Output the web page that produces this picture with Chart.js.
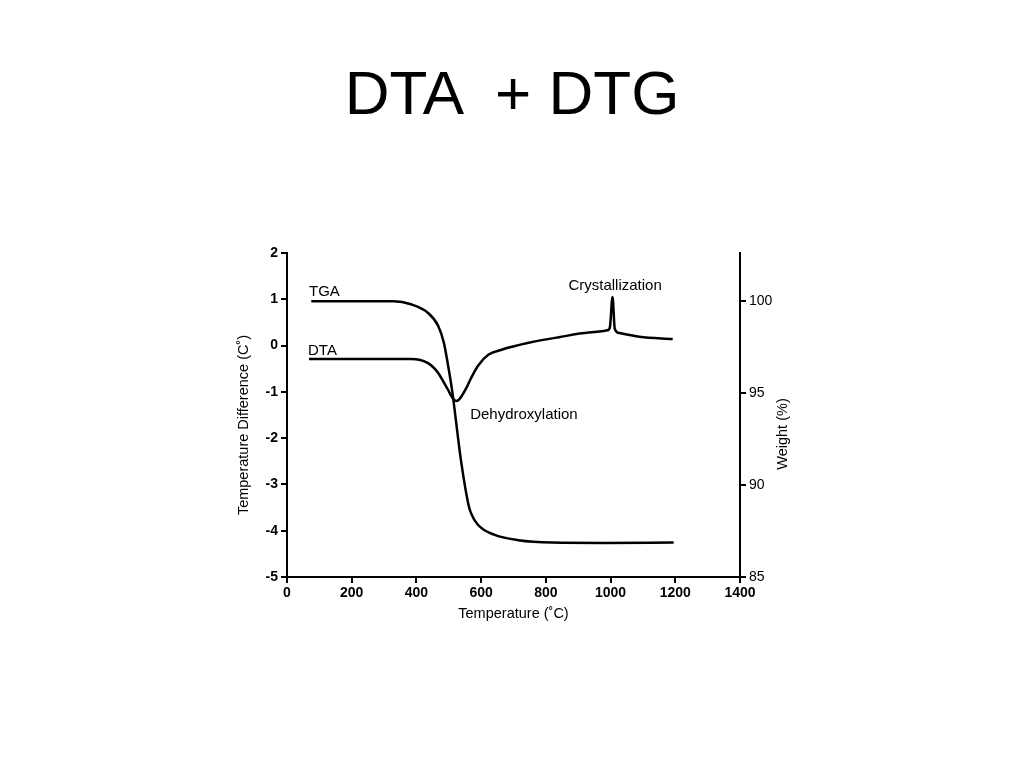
<!DOCTYPE html>
<html>
<head>
<meta charset="utf-8">
<script src="https://cdn.jsdelivr.net/npm/chart.js@4.4.1/dist/chart.umd.min.js"></script>
<style>
  html, body { margin: 0; padding: 0; background: #fff; }
  #wrap { position: absolute; left: 0; top: 0; width: 1024px; height: 768px; }
  #title {
    position: absolute; left: 0; top: 62px; width: 1024px; text-align: center;
    font-family: 'Liberation Sans', Arial, sans-serif; font-size: 62px; line-height: 62px;
    white-space: pre; color: #000;
  }
</style>
</head>
<body>
<div id="wrap"><canvas id="c"></canvas></div>
<div id="title">DTA  + DTG</div>
<script>
// ---- data ----
const tgaTemp   = [75, 330, 383, 436, 467, 485, 498, 510, 538, 560, 568, 590, 640, 715, 820, 975, 1195];
const tgaWeight = [100.0, 100.0, 99.83, 99.36, 98.66, 97.73, 96.48, 95.18, 91.3, 89.0, 88.5, 87.84, 87.3, 87.0, 86.87, 86.85, 86.88];

const dtaTemp = [68, 383, 436, 467, 485, 498, 507, 515, 523, 531, 538, 554, 569, 591, 622, 663, 747, 840, 933, 990, 998, 1006, 1013, 1027, 1089, 1192];
const dtaDiff = [-0.29, -0.29, -0.38, -0.59, -0.80, -0.96, -1.08, -1.16, -1.20, -1.17, -1.11, -0.92, -0.70, -0.43, -0.20, -0.09, 0.06, 0.18, 0.28, 0.33, 0.40, 1.05, 0.36, 0.27, 0.19, 0.14];

const xTicks      = [0, 200, 400, 600, 800, 1000, 1200, 1400];
const diffTicks   = [-5, -4, -3, -2, -1, 0, 1, 2];
const weightTicks = [85, 90, 95, 100];

const xTitle  = 'Temperature (˚C)';
const yTitle  = 'Temperature Difference (C˚)';
const y2Title = 'Weight (%)';

const annoText  = ['TGA', 'DTA', 'Crystallization', 'Dehydroxylation'];
const annoTemp  = [68, 65, 1014, 566];
const annoDiff  = [1.15, -0.11, 1.28, -1.50];
const annoAlign = ['left', 'left', 'center', 'left'];

const FONT = "'Liberation Sans', Arial, sans-serif";

const toXY = (xs, ys) => xs.map((x, i) => ({ x: x, y: ys[i] }));

const textPlugin = {
  id: 'texts',
  afterDatasetsDraw(chart) {
    const ctx = chart.ctx, xs = chart.scales.x, ys = chart.scales.y, area = chart.chartArea;
    ctx.save();
    ctx.fillStyle = '#000';
    ctx.font = '15px ' + FONT;
    ctx.textBaseline = 'middle';
    annoText.forEach((t, i) => {
      ctx.textAlign = annoAlign[i];
      ctx.fillText(t, xs.getPixelForValue(annoTemp[i]), ys.getPixelForValue(annoDiff[i]));
    });
    // vertical axis titles, both reading bottom-to-top as in the reference
    ctx.font = '14.5px ' + FONT;
    ctx.textAlign = 'center';
    const mid = (area.top + area.bottom) / 2;
    ctx.save();
    ctx.translate(area.left - 43, mid + 10);
    ctx.rotate(-Math.PI / 2);
    ctx.fillText(yTitle, 0, 0);
    ctx.restore();
    ctx.save();
    ctx.translate(area.right + 43, mid + 19);
    ctx.rotate(-Math.PI / 2);
    ctx.fillText(y2Title, 0, 0);
    ctx.restore();
    ctx.restore();
  }
};

const gridCfg = { drawOnChartArea: false, drawTicks: true, tickLength: 6, color: '#000', lineWidth: 2 };
const tickFont = { family: FONT, size: 14, weight: 'bold' };

new Chart(document.getElementById('c'), {
  type: 'line',
  data: {
    datasets: [
      { label: 'TGA', data: toXY(tgaTemp, tgaWeight), yAxisID: 'y2',
        borderColor: '#000', borderWidth: 2.5, pointRadius: 0, fill: false,
        cubicInterpolationMode: 'monotone' },
      { label: 'DTA', data: toXY(dtaTemp, dtaDiff), yAxisID: 'y',
        borderColor: '#000', borderWidth: 2.5, pointRadius: 0, fill: false,
        cubicInterpolationMode: 'monotone' }
    ]
  },
  options: {
    responsive: true,
    maintainAspectRatio: false,
    animation: false,
    layout: { padding: { left: 232, right: 228, top: 253, bottom: 140 } },
    plugins: { legend: { display: false }, tooltip: { enabled: false }, title: { display: false } },
    scales: {
      x: {
        type: 'linear', min: 0, max: 1400,
        afterBuildTicks: s => { s.ticks = xTicks.map(v => ({ value: v })); },
        ticks: { font: tickFont, color: '#000', padding: 2, maxRotation: 0, autoSkip: false, callback: v => String(v) },
        grid: gridCfg,
        border: { color: '#000', width: 2 },
        title: { display: true, text: xTitle, font: { family: FONT, size: 14.5 }, color: '#000', padding: { top: 0, bottom: 5 } },
        afterFit: s => { s.height = 51; }
      },
      y: {
        type: 'linear', position: 'left', min: -5, max: 2,
        afterBuildTicks: s => { s.ticks = diffTicks.map(v => ({ value: v })); },
        ticks: { font: tickFont, color: '#000', padding: 3, callback: v => String(v) },
        grid: gridCfg,
        border: { color: '#000', width: 2 },
        afterFit: s => { s.width = 55; }
      },
      y2: {
        type: 'linear', position: 'right', min: 85, max: 102.62,
        afterBuildTicks: s => { s.ticks = weightTicks.map(v => ({ value: v })); },
        ticks: { font: { family: FONT, size: 14 }, color: '#000', padding: 3, callback: v => String(v) },
        grid: gridCfg,
        border: { color: '#000', width: 2 },
        afterFit: s => { s.width = 56; }
      }
    }
  },
  plugins: [textPlugin]
});
</script>
</body>
</html>
